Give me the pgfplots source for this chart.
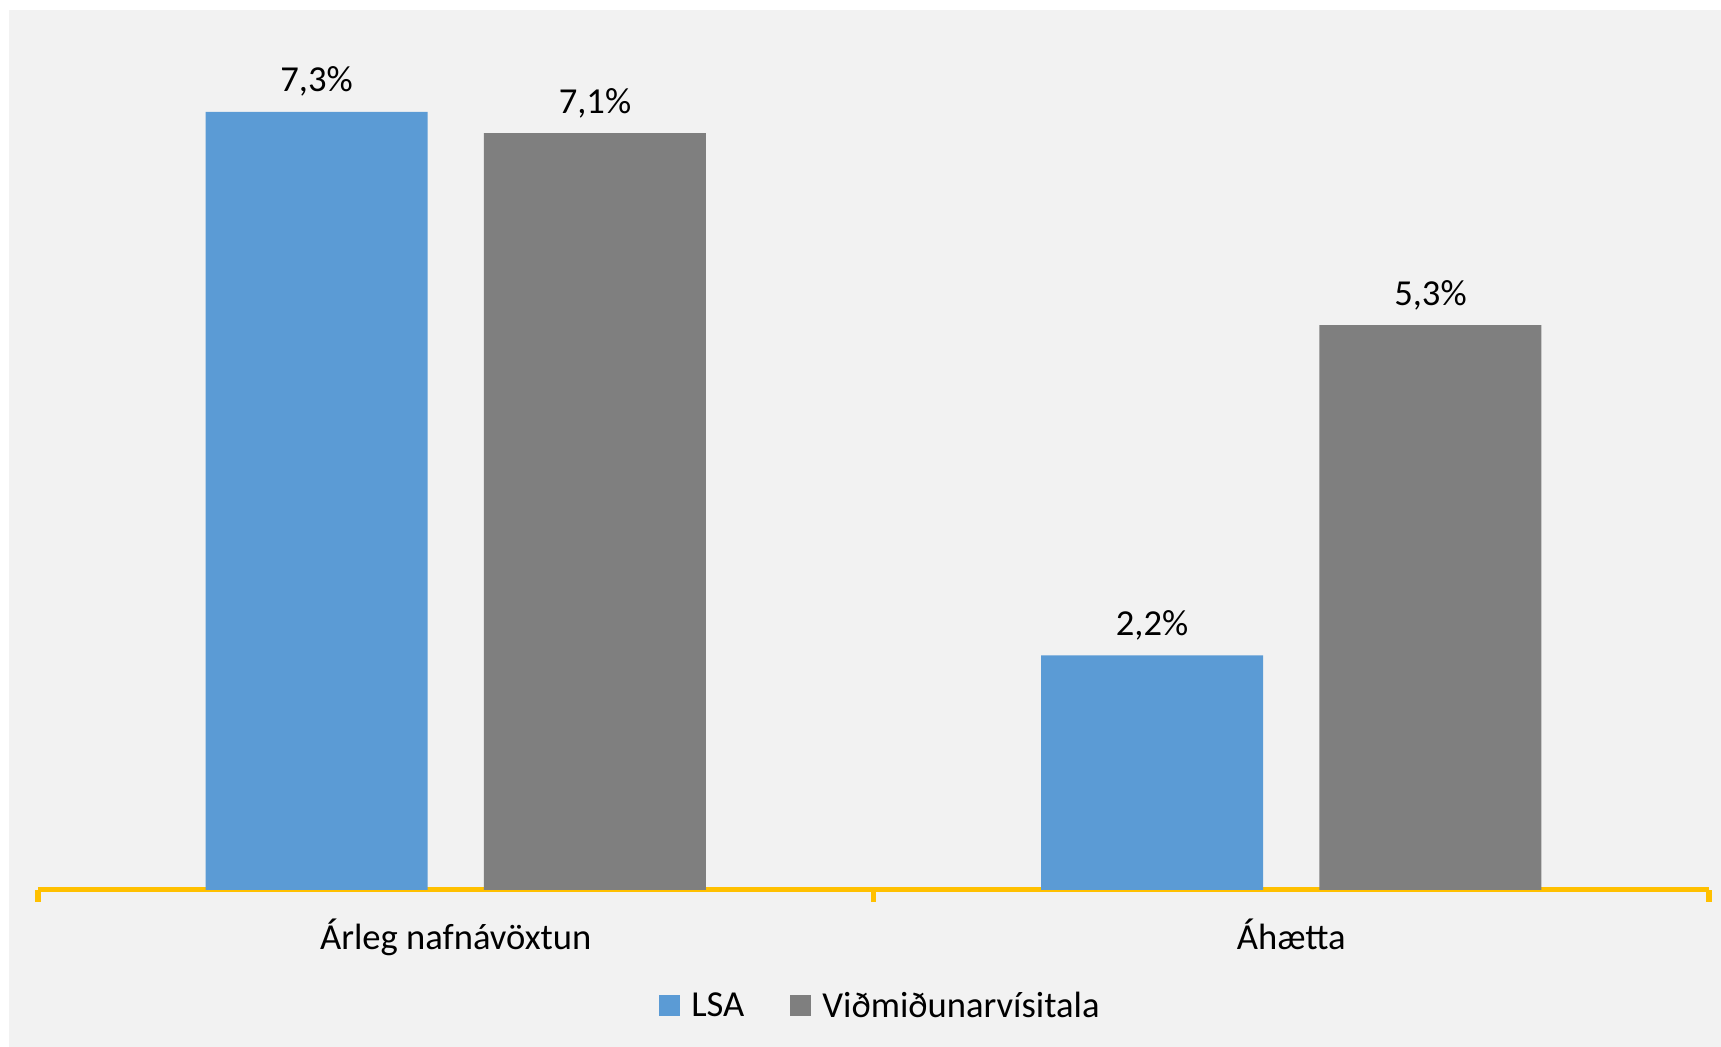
\documentclass[border=0pt]{standalone}
\usepackage{fontspec}
\setmainfont{Carlito}
\usepackage{pgfplots}
\pgfplotsset{compat=1.18}
\definecolor{lsablue}{HTML}{5B9BD5}
\definecolor{refgray}{HTML}{7F7F7F}
\definecolor{gold}{HTML}{FFC000}
\definecolor{bgcol}{HTML}{F2F2F2}
\newcommand{\bigfont}{\fontsize{18.3pt}{22pt}\selectfont}
\begin{document}
\begin{tikzpicture}
\path[use as bounding box] (-19pt,-78.5pt) rectangle (841.5pt,445pt);
\fill[bgcol] (-14.5pt,-78.5pt) rectangle (841.5pt,440pt);
\begin{axis}[
  scale only axis,
  width=835.5pt, height=426.4pt,
  xmin=0, xmax=2, ymin=0, ymax=8,
  axis y line=none,
  axis x line*=bottom,
  x axis line style={-, gold, line width=2.5pt},
  xtick={0,1,2},
  xticklabels={Árleg nafnávöxtun, Áhætta},
  x tick label as interval,
  tick align=outside,
  major tick length=6pt,
  x tick style={gold, line width=2.8pt},
  xticklabel style={font=\bigfont, text=black, anchor=base, yshift=-24pt},
  /pgf/number format/assume math mode=true,
  ybar, bar width=111pt,
  nodes near coords={\pgfmathprintnumber[fixed,fixed zerofill,precision=1,use comma]{\pgfplotspointmeta}\%},
  every node near coord/.append style={font=\bigfont, text=black, anchor=base, yshift=10pt, inner sep=0pt},
  legend columns=2,
  legend style={at={(0.5,0)}, anchor=center, yshift=-58pt, xshift=4pt, draw=none, fill=none, font=\bigfont,
    /tikz/every even column/.append style={column sep=21pt}},
  legend image code/.code={\fill[#1, draw=none] (0pt,-5.25pt) rectangle (10.5pt,5.25pt); \path (14pt,0pt);},
]
\addplot[fill=lsablue, draw=none, bar shift=-69.6pt] coordinates {(0.5,7.3) (1.5,2.2)};
\addplot[fill=refgray, draw=none, bar shift=69.6pt] coordinates {(0.5,7.1) (1.5,5.3)};
\legend{LSA, Viðmiðunarvísitala}
\end{axis}
\end{tikzpicture}
\end{document}
